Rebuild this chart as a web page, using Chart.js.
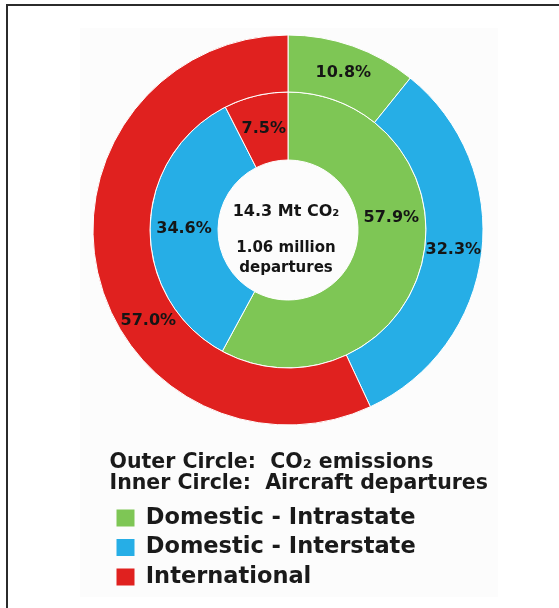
<!DOCTYPE html>
<html><head><meta charset="utf-8">
<script src="https://cdn.jsdelivr.net/npm/chart.js@4.4.0/dist/chart.umd.min.js"></script>
<style>
html,body{margin:0;padding:0;background:#fff;}
#wrap{position:relative;width:559px;height:608px;overflow:hidden;}
#frame{position:absolute;left:6px;top:4px;right:-10px;bottom:-10px;border-left:2px solid #2b2b2b;border-top:2px solid #2b2b2b;}
#panel{position:absolute;left:80px;top:28px;width:418px;height:569px;background:#fcfcfc;}
canvas{position:absolute;left:0;top:0;}
</style></head><body>
<div id="wrap"><div id="frame"></div><div id="panel"></div><canvas id="c" width="559" height="608"></canvas></div>
<script>
const categories = ["Domestic - Intrastate", "Domestic - Interstate", "International"];
const colors = ["#7ec655", "#26aee6", "#e0211f"];
const co2Share = [10.8, 32.3, 57.0];          // outer circle
const departureShare = [57.9, 34.6, 7.5];      // inner circle
const seriesNames = ["CO₂ emissions", "Aircraft departures"];
const headerLines = ["Outer Circle:  CO₂ emissions", "Inner Circle:  Aircraft departures"];
const centerLines = ["14.3 Mt CO₂", "1.06 million", "departures"];

const FONT = '"DejaVu Sans", "Liberation Sans", sans-serif';

const sliceLabels = {
  id: 'sliceLabels',
  beforeDraw(chart) {
    // let the legend header lines run past the chart-area width without clipping
    if (chart.legend) chart.legend.right = chart.width;
  },
  afterDatasetsDraw(chart) {
    const ctx = chart.ctx;
    ctx.save();
    ctx.fillStyle = '#151515';
    ctx.textAlign = 'center';
    ctx.textBaseline = 'middle';
    ctx.font = 'bold 16px ' + FONT;
    chart.data.datasets.forEach((ds, di) => {
      const meta = chart.getDatasetMeta(di);
      meta.data.forEach((arc, i) => {
        const p = arc.getProps(['x', 'y', 'startAngle', 'endAngle', 'innerRadius', 'outerRadius'], true);
        const span = p.endAngle - p.startAngle;
        const f = span > Math.PI ? 0.4 : 0.5;
        const a = p.startAngle + span * f;
        const r = (p.innerRadius + p.outerRadius) / 2;
        ctx.fillText(ds.data[i].toFixed(1) + '%', p.x + Math.cos(a) * r, p.y + Math.sin(a) * r);
      });
    });
    const c = chart.getDatasetMeta(0).data[0];
    const sizes = [16, 15, 15];
    const dy = [-18, 18, 38];
    centerLines.forEach((t, i) => {
      ctx.font = 'bold ' + sizes[i] + 'px ' + FONT;
      ctx.fillText(t, c.x - 2, c.y + dy[i]);
    });
    ctx.restore();
  }
};

new Chart(document.getElementById('c'), {
  type: 'doughnut',
  data: {
    labels: categories,
    datasets: [
      { label: seriesNames[0], data: co2Share, backgroundColor: colors, borderColor: '#ffffff', borderWidth: 1, weight: 57, clip: false },
      { label: seriesNames[1], data: departureShare, backgroundColor: colors, borderColor: '#ffffff', borderWidth: 1, weight: 68, clip: false }
    ]
  },
  options: {
    responsive: false,
    devicePixelRatio: 1,
    animation: false,
    radius: 195,
    cutout: '35.9%',
    layout: { padding: { left: 109.5, right: 92.5, top: 20, bottom: 9.75 } },
    plugins: {
      tooltip: { enabled: false },
      legend: {
        position: 'bottom',
        align: 'start',
        fullSize: false,
        labels: {
          boxWidth: 18,
          boxHeight: 17,
          padding: 7,
          color: '#1a1a1a',
          font: { family: FONT, size: 22.5, weight: 'bold' },
          generateLabels: () => categories.map((c, i) => ({
            text: c, fillStyle: colors[i], strokeStyle: colors[i], lineWidth: 0, hidden: false, index: i
          }))
        },
        title: {
          display: true,
          text: headerLines,
          position: 'start',
          color: '#1a1a1a',
          font: { family: FONT, size: 20.5, weight: 'bold', lineHeight: '21px' },
          padding: { top: 12, bottom: 26.75 }
        }
      }
    }
  },
  plugins: [sliceLabels]
});
</script>
</body></html>
